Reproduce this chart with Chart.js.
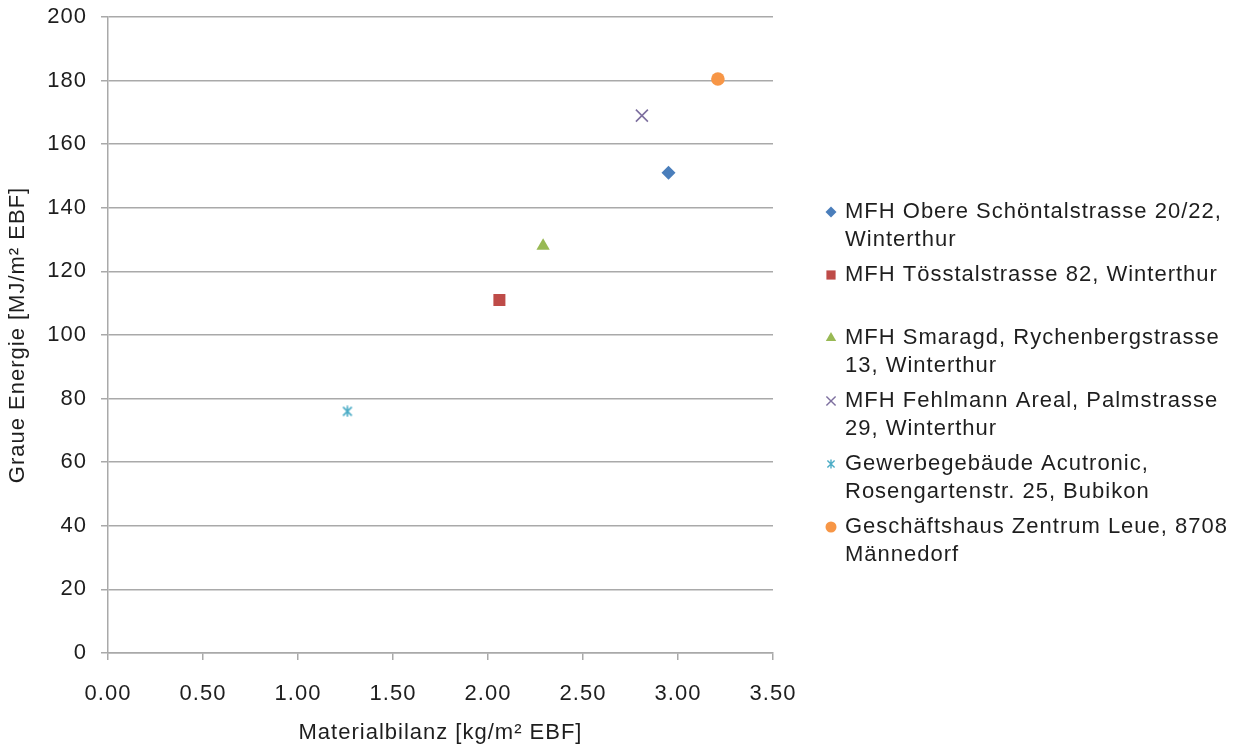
<!DOCTYPE html>
<html>
<head>
<meta charset="utf-8">
<title>Graue Energie vs. Materialbilanz</title>
<script src="https://cdn.jsdelivr.net/npm/chart.js@4"></script>
<style>
  html, body { margin: 0; padding: 0; background: #ffffff; }
  #wrap { position: relative; width: 1246px; height: 748px; }
</style>
</head>
<body>
<div id="wrap"><canvas id="chart"></canvas></div>
<script>
// Buildings compared (one dataset each)
const buildingNames = [
  'MFH Obere Schöntalstrasse 20/22, Winterthur',
  'MFH Tösstalstrasse 82, Winterthur',
  'MFH Smaragd, Rychenbergstrasse 13, Winterthur',
  'MFH Fehlmann Areal, Palmstrasse 29, Winterthur',
  'Gewerbegebäude Acutronic, Rosengartenstr. 25, Bubikon',
  'Geschäftshaus Zentrum Leue, 8708 Männedorf'
];
// Legend text, wrapped as in the legend box
const legendLines = [
  ['MFH Obere Schöntalstrasse 20/22,', 'Winterthur'],
  ['MFH Tösstalstrasse 82, Winterthur'],
  ['MFH Smaragd, Rychenbergstrasse', '13, Winterthur'],
  ['MFH Fehlmann Areal, Palmstrasse', '29, Winterthur'],
  ['Gewerbegebäude Acutronic,', 'Rosengartenstr. 25, Bubikon'],
  ['Geschäftshaus Zentrum Leue, 8708', 'Männedorf']
];
// Materialbilanz [kg/m² EBF]
const materialbilanz = [2.95, 2.06, 2.29, 2.81, 1.26, 3.21];
// Graue Energie [MJ/m² EBF]
const graueEnergie = [151, 111, 128, 169, 76, 180.5];

const xTickValues = [0, 0.5, 1, 1.5, 2, 2.5, 3, 3.5];
const yTickValues = [0, 20, 40, 60, 80, 100, 120, 140, 160, 180, 200];

const seriesColors = ['#4a7ebb', '#be4b48', '#98b954', '#7d6f9f', '#4bacc6', '#f79646'];

// Asterisk marker (X with a vertical bar)
function asteriskMarker(size, color, lw) {
  const c = document.createElement('canvas');
  c.width = size; c.height = size;
  const g = c.getContext('2d');
  g.strokeStyle = color; g.lineWidth = lw; g.lineCap = 'butt';
  const m = lw, h = size / 2;
  g.beginPath();
  g.moveTo(m, m); g.lineTo(size - m, size - m);
  g.moveTo(size - m, m); g.lineTo(m, size - m);
  g.moveTo(h, 0.5); g.lineTo(h, size - 0.5);
  g.stroke();
  return c;
}

const plotStyles = ['rectRot', 'rect', 'triangle', 'crossRot', asteriskMarker(12, seriesColors[4], 1.6), 'circle'];
const plotRadii = [7, 8.5, 7.7, 8.5, 6, 6.8];
const legendStyles = ['rectRot', 'rect', 'triangle', 'crossRot', asteriskMarker(10, seriesColors[4], 1.4), 'circle'];
const legendRadii = [5.5, 6.5, 6, 6.5, 5, 5.5];

const FONT = '"Liberation Sans", Arial, Helvetica, sans-serif';
const TEXT = '#1e1e1e';
const GRID = '#a9a9a9';
const TRACK = '1px';

const datasets = buildingNames.map((name, i) => ({
  label: name,
  data: [{ x: materialbilanz[i], y: graueEnergie[i] }],
  pointStyle: plotStyles[i],
  pointRadius: plotRadii[i],
  pointHoverRadius: plotRadii[i],
  backgroundColor: seriesColors[i],
  borderColor: seriesColors[i],
  borderWidth: plotStyles[i] === 'crossRot' ? 1.6 : 0,
  showLine: false
}));

// Slightly wider tracking for all text on the canvas
const trackingPlugin = {
  id: 'tracking',
  beforeLayout(chart) { chart.ctx.letterSpacing = TRACK; },
  beforeDraw(chart) { chart.ctx.letterSpacing = TRACK; }
};

// Legend on the right, with wrapped multi-line entries
const sideLegend = {
  id: 'sideLegend',
  afterDraw(chart) {
    const ctx = chart.ctx;
    const markerX = 831, textX = 845, firstY = 212, entryStep = 63, lineStep = 28;
    ctx.save();
    ctx.letterSpacing = TRACK;
    ctx.font = '22px ' + FONT;
    ctx.textAlign = 'left';
    ctx.textBaseline = 'middle';
    legendLines.forEach((lines, i) => {
      const y = firstY + i * entryStep;
      ctx.fillStyle = seriesColors[i];
      ctx.strokeStyle = seriesColors[i];
      ctx.lineWidth = 1.4;
      Chart.helpers.drawPoint(ctx, {
        pointStyle: legendStyles[i],
        radius: legendRadii[i],
        rotation: 0,
        borderWidth: legendStyles[i] === 'crossRot' ? 1.4 : 0
      }, markerX, y);
      ctx.fillStyle = TEXT;
      lines.forEach((t, k) => ctx.fillText(t, textX, y + k * lineStep));
    });
    ctx.restore();
  }
};

new Chart(document.getElementById('chart'), {
  type: 'scatter',
  data: { datasets },
  plugins: [trackingPlugin, sideLegend],
  options: {
    responsive: true,
    maintainAspectRatio: false,
    devicePixelRatio: 1,
    animation: false,
    events: [],
    layout: { padding: { top: 17, right: 473, bottom: 0, left: 0 } },
    plugins: { legend: { display: false }, tooltip: { enabled: false }, title: { display: false } },
    scales: {
      x: {
        type: 'linear',
        min: 0, max: 3.5,
        afterBuildTicks: s => { s.ticks = xTickValues.map(v => ({ value: v })); },
        afterFit: s => { s.height = 95; s.paddingLeft = 0; s.paddingRight = 0; },
        ticks: {
          color: TEXT,
          font: { family: FONT, size: 22 },
          padding: 21,
          maxRotation: 0,
          callback: v => Number(v).toFixed(2)
        },
        grid: { drawOnChartArea: false, drawTicks: true, tickLength: 7, color: GRID, lineWidth: 1.5 },
        border: { display: true, color: GRID, width: 1.5 },
        title: {
          display: true,
          text: 'Materialbilanz [kg/m² EBF]',
          color: TEXT,
          font: { family: FONT, size: 22 },
          padding: { top: 0, bottom: 2 }
        }
      },
      y: {
        type: 'linear',
        min: 0, max: 200,
        afterBuildTicks: s => { s.ticks = yTickValues.map(v => ({ value: v })); },
        afterFit: s => { s.width = 108; s.paddingTop = 0; s.paddingBottom = 0; },
        ticks: {
          color: TEXT,
          font: { family: FONT, size: 22 },
          padding: 14
        },
        grid: { drawOnChartArea: true, drawTicks: true, tickLength: 7, color: GRID, lineWidth: 1.5 },
        border: { display: true, color: GRID, width: 1.5 },
        title: {
          display: true,
          text: 'Graue Energie [MJ/m² EBF]',
          color: TEXT,
          font: { family: FONT, size: 22 },
          padding: { top: 5, bottom: 0 }
        }
      }
    }
  }
});
</script>
</body>
</html>
